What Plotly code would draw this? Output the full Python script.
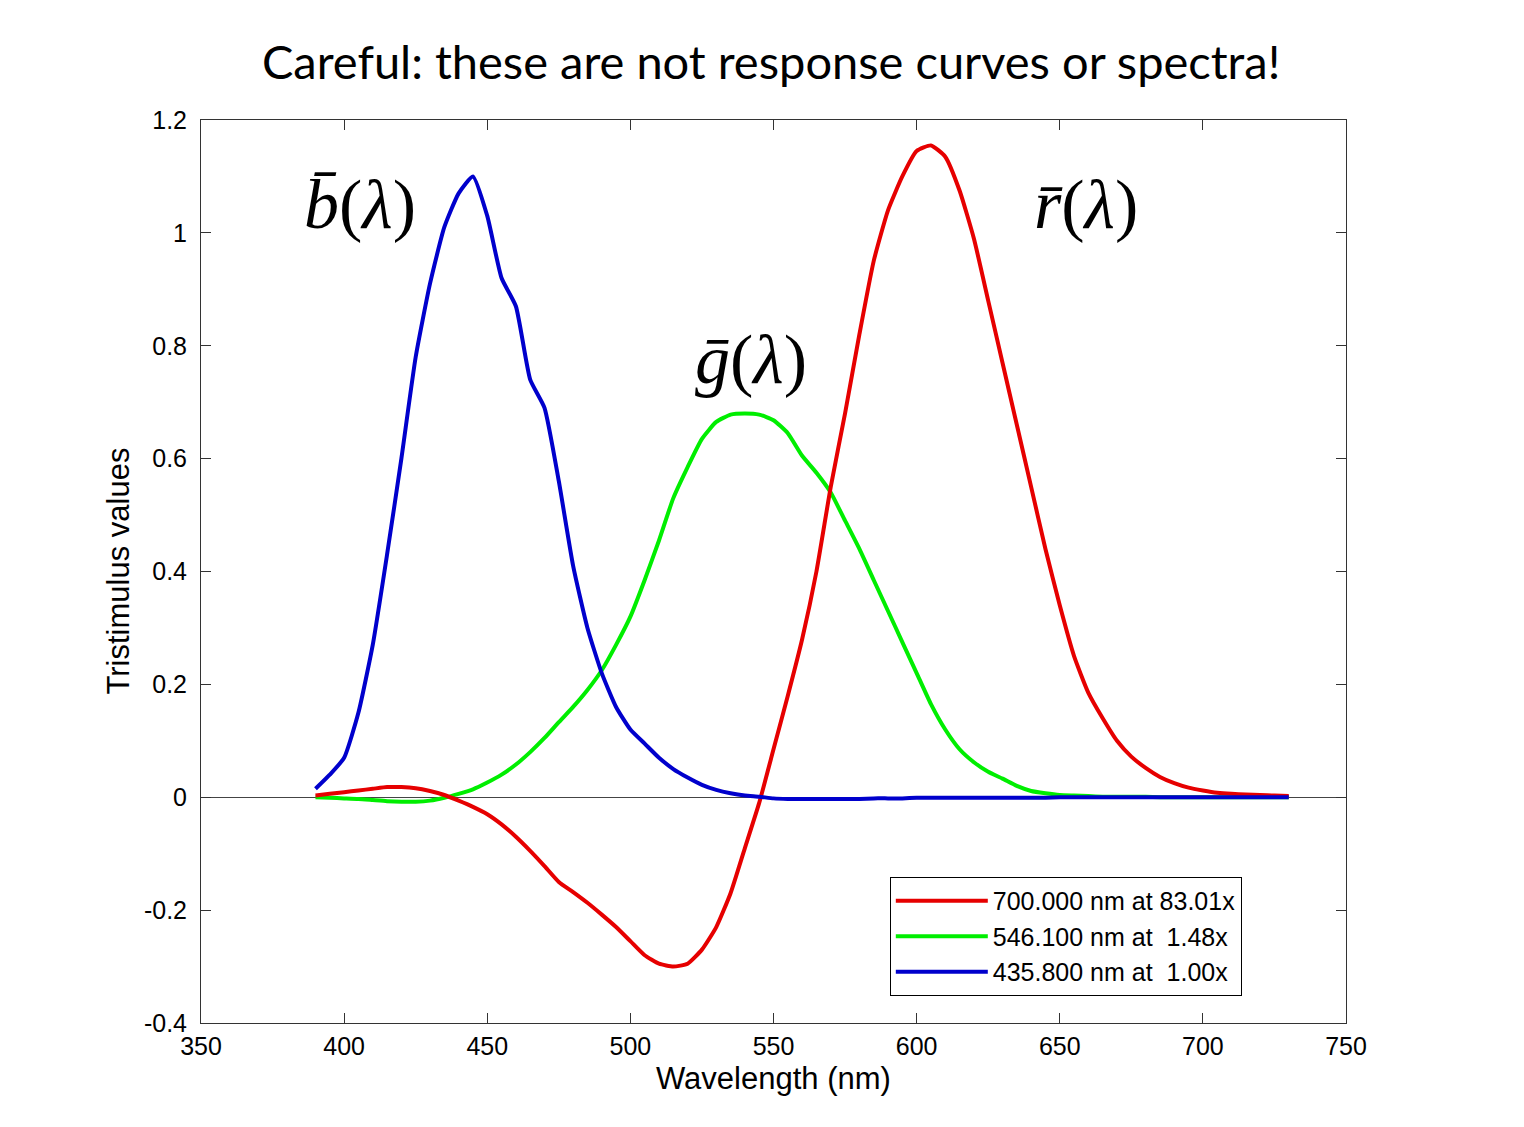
import plotly.graph_objects as go

wavelengths = list(range(390, 735, 5))

r_bar = [0.003, 0.006, 0.009, 0.012, 0.015, 0.018, 0.018, 0.016, 0.011, 0.004,
         -0.006, -0.017, -0.030, -0.048, -0.070, -0.095, -0.122, -0.150, -0.168, -0.187,
         -0.208, -0.230, -0.255, -0.280, -0.295, -0.300, -0.295, -0.270, -0.230, -0.170,
         -0.090, -0.010, 0.085, 0.180, 0.280, 0.400, 0.550, 0.680, 0.820, 0.950,
         1.040, 1.100, 1.145, 1.155, 1.135, 1.075, 0.990, 0.880, 0.770, 0.660,
         0.550, 0.440, 0.340, 0.250, 0.185, 0.140, 0.100, 0.072, 0.052, 0.036,
         0.025, 0.017, 0.012, 0.008, 0.006, 0.005, 0.004, 0.003, 0.002]

g_bar = [0.000, -0.001, -0.002, -0.003, -0.005, -0.007, -0.008, -0.008, -0.006, -0.001,
         0.006, 0.014, 0.026, 0.040, 0.058, 0.080, 0.105, 0.133, 0.160, 0.190,
         0.225, 0.270, 0.320, 0.385, 0.455, 0.530, 0.585, 0.635, 0.665, 0.678,
         0.680, 0.678, 0.668, 0.645, 0.605, 0.575, 0.540, 0.490, 0.440, 0.385,
         0.330, 0.275, 0.220, 0.165, 0.120, 0.085, 0.062, 0.045, 0.033, 0.020,
         0.011, 0.007, 0.004, 0.003, 0.002, 0.001, 0.001, 0.001, 0.001, 0.000,
         0.000, 0.000, 0.000, 0.000, 0.000, 0.000, 0.000, 0.000, 0.000]

b_bar = [0.015, 0.040, 0.070, 0.150, 0.270, 0.430, 0.600, 0.780, 0.910, 1.010,
         1.070, 1.100, 1.030, 0.920, 0.870, 0.740, 0.690, 0.560, 0.410, 0.300,
         0.220, 0.160, 0.120, 0.095, 0.070, 0.050, 0.035, 0.022, 0.013, 0.007,
         0.003, 0.001, -0.002, -0.003, -0.003, -0.003, -0.003, -0.003, -0.003, -0.002,
         -0.002, -0.002, -0.001, -0.001, -0.001, -0.001, -0.001, -0.001, -0.001, -0.001,
         -0.001, -0.001, 0.000, 0.000, 0.000, 0.000, 0.000, 0.000, 0.000, 0.000,
         0.000, 0.000, 0.000, 0.000, 0.000, 0.000, 0.000, 0.000, 0.000]

legend_labels = ["700.000 nm at 83.01x",
                 "546.100 nm at\u00a0\u00a01.48x",
                 "435.800 nm at\u00a0\u00a01.00x"]

x_ticks = [350, 400, 450, 500, 550, 600, 650, 700, 750]
y_ticks = [-0.4, -0.2, 0, 0.2, 0.4, 0.6, 0.8, 1, 1.2]
y_tick_text = ["-0.4", "-0.2", "0", "0.2", "0.4", "0.6", "0.8", "1", "1.2"]

RED = "#e60000"
GREEN = "#00ee00"
BLUE = "#0000cc"

line_kw = dict(width=4, shape="spline", smoothing=0.5)

fig = go.Figure()
fig.add_trace(go.Scatter(x=wavelengths, y=g_bar, mode="lines", name=legend_labels[1],
                         line=dict(color=GREEN, **line_kw), legendrank=2))
fig.add_trace(go.Scatter(x=wavelengths, y=r_bar, mode="lines", name=legend_labels[0],
                         line=dict(color=RED, **line_kw), legendrank=1))
fig.add_trace(go.Scatter(x=wavelengths, y=b_bar, mode="lines", name=legend_labels[2],
                         line=dict(color=BLUE, **line_kw), legendrank=3))

sans = "Liberation Sans, Arial, sans-serif"
tick_font = dict(family=sans, size=25, color="black")
axis_common = dict(showline=True, linecolor="#333333", linewidth=1, mirror="ticks",
                   ticks="inside", ticklen=10, tickcolor="#333333", showgrid=False,
                   tickfont=tick_font)

fig.update_xaxes(range=[350, 750], tickvals=x_ticks, zeroline=False,
                 ticklabelstandoff=1, **axis_common)
fig.update_yaxes(range=[-0.4, 1.2], tickvals=y_ticks, ticktext=y_tick_text,
                 zeroline=True, zerolinecolor="#444444", zerolinewidth=1,
                 ticklabelstandoff=8, **axis_common)

math_font = dict(family="Liberation Serif, Times New Roman, serif", size=70, color="black")
labels = [("<i>b\u0304</i>(<i>\u03bb</i>)", 405.5, 1.05),
          ("<i>g\u0304</i>(<i>\u03bb</i>)", 542.0, 0.775),
          ("<i>r\u0304</i>(<i>\u03bb</i>)", 659.0, 1.05)]
annotations = [dict(x=x, y=y, xref="x", yref="y", text=t, showarrow=False,
                    font=math_font, xanchor="center", yanchor="middle")
               for t, x, y in labels]
annotations.append(dict(x=0.5, y=0, xref="paper", yref="paper", yshift=-55,
                        text="Wavelength (nm)", showarrow=False,
                        font=dict(family=sans, size=31, color="black"),
                        xanchor="center", yanchor="middle"))
annotations.append(dict(x=0, y=0.5, xref="paper", yref="paper", xshift=-83,
                        text="Tristimulus values", showarrow=False, textangle=-90,
                        font=dict(family=sans, size=31, color="black"),
                        xanchor="center", yanchor="middle"))

fig.update_layout(
    width=1524, height=1127,
    margin=dict(l=201, r=178, t=120, b=104),
    paper_bgcolor="white", plot_bgcolor="white",
    title=dict(text="Careful: these are not response curves or spectra!",
               x=0.506, y=1 - 63 / 1127, xref="container", yref="container",
               xanchor="center", yanchor="middle",
               font=dict(family="Lato, sans-serif", size=47, color="black")),
    legend=dict(x=0.909, y=0.1617, xanchor="right", yanchor="top",
                bgcolor="white", bordercolor="black", borderwidth=1,
                font=dict(family=sans, size=25, color="black"),
                tracegroupgap=0, itemwidth=92),
    annotations=annotations,
    showlegend=True,
)

fig.write_html("out.html")
